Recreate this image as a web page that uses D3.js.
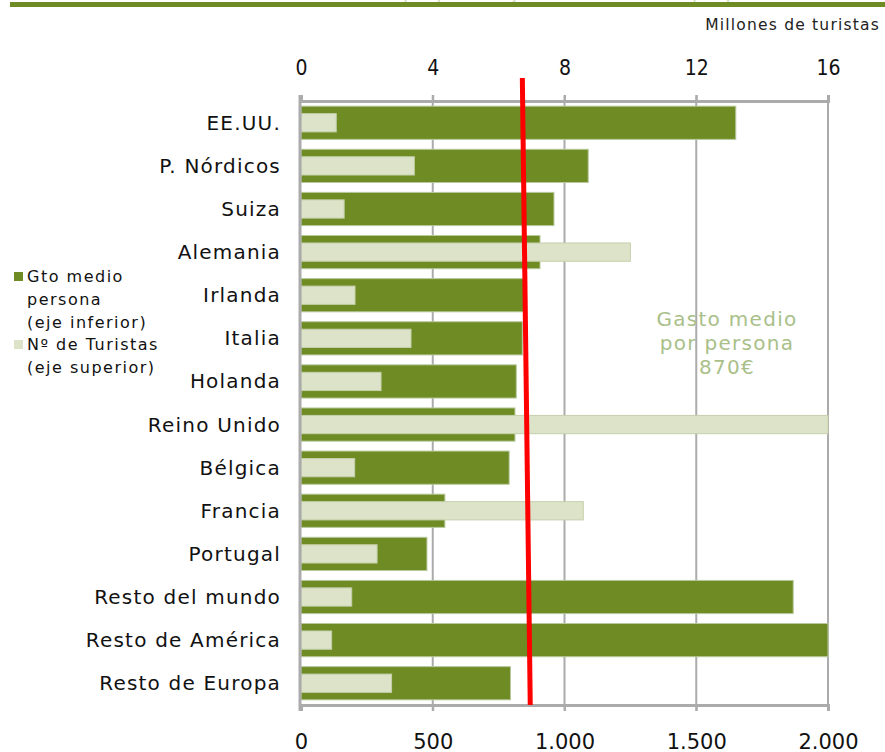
<!DOCTYPE html>
<html>
<head>
<meta charset="utf-8">
<script src="https://cdn.jsdelivr.net/npm/d3@7"></script>
<style>
  body { margin: 0; background: #fff; }
  svg { display: block; }
</style>
</head>
<body>
<svg id="chart" width="885" height="752"></svg>
<script>
// data
const paises = ["EE.UU.", "P. Nórdicos", "Suiza", "Alemania", "Irlanda", "Italia", "Holanda",
  "Reino Unido", "Bélgica", "Francia", "Portugal", "Resto del mundo", "Resto de América", "Resto de Europa"]
// gasto medio por persona, euros (eje inferior)
const gastoMedio = [1650, 1090, 960, 907, 845, 840, 817, 812, 790, 546, 478, 1868, 2000, 795]
// numero de turistas, millones (eje superior)
const turistas = [1.07, 3.44, 1.31, 10.0, 1.64, 3.34, 2.43, 16.0, 1.63, 8.57, 2.31, 1.54, 0.93, 2.75]
const ticksGasto = [0, 500, 1000, 1500, 2000]
const ticksTuristas = [0, 4, 8, 12, 16]
const gastoPromedio = 870      // linea roja, valor en la base
const gastoPromedioTop = 840   // la linea esta un poco inclinada
const notaLineas = ["Gasto medio", "por persona", "870€"]

const verde = "#6e8b24"
const verdeClaro = "#dde3c8"
const gris = "#ababab"

let svg = d3.select("#chart")

let plot = {left: 301, right: 828, top: 101, bottom: 705}

const x = d3.scaleLinear().domain([0, 2000]).range([plot.left, plot.right])
const xTop = d3.scaleLinear().domain([0, 16]).range([plot.left, plot.right])
const y = d3.scaleBand().domain(paises).range([plot.top, plot.bottom]).paddingInner(0.23).paddingOuter(0.12)

// franja superior con titulo cortado
svg.append("text")
    .text("Gasto medio por persona y número de turistas por país de residencia")
    .attr("x", 880).attr("y", 0)
    .style("text-anchor", "end")
    .style("font-family", "DejaVu Sans")
    .style("font-size", "15px")
    .style("letter-spacing", "1px")
    .attr("fill", "#c9d8b0")
svg.append("rect").attr("x", 10).attr("y", 2).attr("width", 875).attr("height", 5).attr("fill", verde)

svg.append("text")
    .text("Millones de turistas")
    .attr("x", 880).attr("y", 30)
    .style("text-anchor", "end")
    .style("font-family", "DejaVu Sans")
    .style("font-size", "15.5px")
    .style("letter-spacing", "1.2px")
    .attr("fill", "#222")

// gridlines
svg.append("g").selectAll("line")
    .data(ticksGasto.slice(1))
    .join("line")
    .attr("x1", d => x(d)).attr("x2", d => x(d))
    .attr("y1", plot.top - 6).attr("y2", plot.bottom + 6)
    .attr("stroke", gris).attr("stroke-width", 2)

// ejes
const axTop = svg.append("g")
    .attr("transform", "translate(0," + plot.top + ")")
    .call(d3.axisTop(xTop).tickValues(ticksTuristas).tickSize(6).tickPadding(20))
const axBottom = svg.append("g")
    .attr("transform", "translate(0," + plot.bottom + ")")
    .call(d3.axisBottom(x).tickValues(ticksGasto).tickSize(6).tickPadding(23)
        .tickFormat(d => d3.format(",")(d).replace(",", ".")))

for (let ax of [axTop, axBottom]) {
    ax.select(".domain").attr("stroke", gris).attr("stroke-width", 3)
    ax.selectAll(".tick line").attr("stroke", gris).attr("stroke-width", 2)
    ax.selectAll("text").attr("fill", "#111").style("font-size", "21px")
}
axTop.selectAll("text").style("font-family", "DejaVu Sans Condensed, DejaVu Sans")
axBottom.selectAll("text").style("font-family", "DejaVu Sans")

// barras gasto
svg.append("g").selectAll("rect")
    .data(paises)
    .join("rect")
    .attr("x", x(0))
    .attr("y", d => y(d))
    .attr("width", (d, i) => x(gastoMedio[i]) - x(0))
    .attr("height", y.bandwidth())
    .attr("fill", verde)
    .attr("stroke", "#b8c99d").attr("stroke-width", 1)

// barras turistas
let hLight = y.bandwidth() * 0.55
svg.append("g").selectAll("rect")
    .data(paises)
    .join("rect")
    .attr("x", xTop(0))
    .attr("y", d => y(d) + (y.bandwidth() - hLight) / 2)
    .attr("width", (d, i) => xTop(turistas[i]) - xTop(0))
    .attr("height", hLight)
    .attr("fill", verdeClaro)
    .attr("stroke", "#c5d0ab").attr("stroke-width", 1)

// eje vertical
svg.append("line")
    .attr("x1", plot.left - 1).attr("x2", plot.left - 1)
    .attr("y1", plot.top - 6).attr("y2", plot.bottom + 6)
    .attr("stroke", gris).attr("stroke-width", 3)

// etiquetas de paises
svg.append("g").selectAll("text")
    .data(paises)
    .join("text")
    .text(d => d)
    .attr("x", 281)
    .attr("y", d => y(d) + y.bandwidth() / 2 + 7)
    .style("text-anchor", "end")
    .style("font-family", "DejaVu Sans")
    .style("font-size", "20px")
    .style("letter-spacing", "1.2px")
    .attr("fill", "#111")

// linea roja gasto medio
svg.append("line")
    .attr("x1", x(gastoPromedioTop)).attr("y1", 78)
    .attr("x2", x(gastoPromedio)).attr("y2", plot.bottom)
    .attr("stroke", "#ff0000").attr("stroke-width", 5)

// nota
svg.append("g").selectAll("text")
    .data(notaLineas)
    .join("text")
    .text(d => d)
    .attr("x", 727)
    .attr("y", (d, i) => 326 + i * 24)
    .style("text-anchor", "middle")
    .style("font-family", "DejaVu Sans")
    .style("font-size", "20px")
    .style("letter-spacing", "1.3px")
    .attr("fill", "#a9c089")

// leyenda
let leyenda = [
    {color: verde, lineas: ["Gto medio", "persona", "(eje inferior)"], y: 282},
    {color: verdeClaro, lineas: ["Nº de Turistas", "(eje superior)"], y: 350}
]
for (let item of leyenda) {
    svg.append("rect").attr("x", 14).attr("y", item.y - 10).attr("width", 9).attr("height", 9).attr("fill", item.color)
    item.lineas.forEach((t, i) => {
        svg.append("text")
            .text(t)
            .attr("x", 27).attr("y", item.y + i * 23)
            .style("font-family", "DejaVu Sans")
            .style("font-size", "16px")
            .style("letter-spacing", "1.5px")
            .attr("fill", "#111")
    })
}
</script>
</body>
</html>
